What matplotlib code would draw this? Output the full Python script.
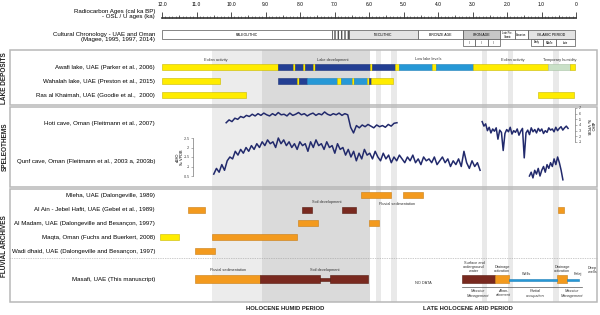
"""Holocene palaeo-records of SE Arabia compared with the Masafi sequence."""

import numpy as np
import matplotlib
matplotlib.use("Agg")
import matplotlib.pyplot as plt
from matplotlib.transforms import blended_transform_factory

plt.rcParams["font.family"] = ["Liberation Sans", "DejaVu Sans"]

# ------------------------------------------------------------------ data (ka)
age_ticks = [12, 11, 10, 9, 8, 7, 6, 5, 4, 3, 2, 1, 0]
age_tick_labels = ["12.0", "11.0", "10.0", "9.0", "8.0", "7.0", "6.0",
                   "5.0", "4.0", "3.0", "2.0", "1.0", "0"]

chron_names = ["PALEOLITHIC", "", "NEOLITHIC", "BRONZE AGE", "IRON AGE",
               "Late Pre-\nIslamic", "Sasanian", "ISLAMIC PERIOD"]
chron_start = [12.0, 7.07, 6.58, 4.58, 3.28, 2.20, 1.77, 1.39]
chron_end = [7.07, 6.58, 4.58, 3.28, 2.20, 1.77, 1.39, 0.03]
iron_sub = ["I", "II", "III"]
iron_edges = [3.28, 2.92, 2.56, 2.20]
islamic_sub = ["Early", "Middle", "Late"]
islamic_edges = [1.30, 0.96, 0.58, 0.03]

humid_early = (10.55, 9.10)
humid_main = (9.10, 5.97)
dry_events = [(5.80, 5.65), (5.36, 5.19), (2.72, 2.58), (1.97, 1.83), (0.67, 0.49)]

# lake deposits: (start, end, kind)  Y eolian, D lake, L low lake, G humid
awafi = [(12.0, 8.64, "Y"), (8.64, 8.20, "D"), (8.20, 8.14, "Y"), (8.14, 7.91, "D"),
         (7.91, 7.85, "Y"), (7.85, 7.62, "D"), (7.62, 7.57, "Y"), (7.57, 5.97, "D"),
         (5.97, 5.91, "Y"), (5.91, 5.25, "D"), (5.25, 5.13, "Y"), (5.13, 4.17, "L"),
         (4.17, 4.06, "Y"), (4.06, 2.99, "L"), (2.99, 0.81, "Y"), (0.81, 0.17, "G"),
         (0.17, 0.03, "Y")]
wahalah = [(12.0, 10.32, "Y"), (8.64, 8.09, "D"), (8.09, 8.03, "Y"), (8.03, 7.80, "D"),
           (7.80, 6.93, "L"), (6.93, 6.81, "Y"), (6.81, 6.49, "L"), (6.49, 6.43, "Y"),
           (6.43, 6.06, "L"), (6.06, 6.00, "Y"), (6.00, 5.94, "D"), (5.94, 5.30, "Y")]
ras = [(12.0, 9.57, "Y"), (1.10, 0.06, "Y")]

lake_names = ["Awafi lake, UAE (Parker et al., 2006)",
              "Wahalah lake, UAE (Preston et al., 2015)",
              "Ras al Khaimah, UAE (Goodie et al.,  2000)"]
lake_notes = ["Eolian activity", "Lake development", "Low lake levels",
              "Eolian activity", "Temporary humidity"]
lake_note_ages = [10.43, 7.04, 4.29, 1.83, 0.46]

# speleothems (d18O, per mil VPDB)
hoti_early = [-4.4, -4.9, -4.6, -5.2, -5.0, -5.5, -5.3, -5.7, -5.5, -5.9,
              -5.6, -6.0, -5.7, -6.1, -5.8, -5.6, -6.0, -5.7, -6.2, -5.8,
              -5.9, -5.6, -6.1, -5.7, -5.9, -6.2, -5.8, -6.0, -5.6, -5.9,
              -6.1, -5.7, -6.0, -5.8, -6.3, -5.9, -5.7, -6.0, -5.8, -6.1,
              -5.7, -6.0, -5.8, -3.6, -2.6, -3.9, -3.5, -4.0, -3.7, -4.1,
              -3.8, -3.5, -4.0, -3.7, -3.9, -3.6, -4.1, -3.8, -4.3, -4.4]
hoti_early_span = (10.14, 5.19)
hoti_late = [-4.6, -3.8, -4.2, -3.0, -3.6, -2.6, -3.3, -2.9, -3.5, -1.5,
             -3.1, -2.7, 0.5, -2.5, -3.2, -2.8, -3.6, -2.4, -3.0, -2.7,
             -3.3, -2.2, -2.9, -3.4, 1.8, -2.6, -3.1, -2.3, -3.5, -2.8,
             -3.2, -2.6, -3.4, -2.9, -3.3, -2.5, -3.0, -2.7, -3.5, -3.1,
             -3.3, -2.8, -3.6, -3.0, -3.4, -3.7, -3.1, -3.5, -3.8, -3.4]
hoti_late_span = (2.72, 0.23)
qunf_main = [-0.6, -0.9, -0.7, -1.1, -0.8, -1.3, -1.5, -1.4, -1.8, -1.6,
             -1.9, -1.7, -2.0, -1.8, -2.1, -1.9, -2.2, -2.0, -2.3, -2.1,
             -2.4, -2.2, -2.3, -2.0, -2.5, -2.2, -2.4, -2.1, -2.3, -2.0,
             -2.2, -1.9, -2.3, -2.1, -2.2, -1.8, -2.3, -2.0, -2.4, -2.1,
             -2.2, -1.9, -2.3, -2.0, -2.1, -1.7, -2.2, -1.9, -2.0, -1.6,
             -1.9, -1.5, -1.8, -1.3, -1.7, -1.4, -1.9, -1.6, -1.7, -1.4,
             -1.8, -1.5, -1.3, -1.7, -1.4, -1.6, -1.2, -1.5, -1.3, -1.6,
             -1.4, -1.2, -1.5, -1.3, -1.6, -1.2, -1.4, -1.1, -1.5, -1.3,
             -1.4, -1.2, -1.5, -1.1, -1.3, -1.5, -1.2, -1.4, -1.0, -1.3,
             -1.1, -1.4, -1.0, -1.8, -1.2, -0.9, -1.3, -1.0, -1.2, -0.8]
qunf_main_span = (10.50, 2.78)
qunf_late = [-0.5, -0.7, -0.4, -0.8, -0.6, -0.9, -0.5, -0.8, -1.0, -0.7,
             -1.1, -0.9, -1.2, -1.0, -1.4, -1.1, -1.5, -1.2, -0.8, -0.3]
qunf_late_span = (1.35, 0.38)
qunf_ticks = [-2.5, -2, -1.5, -1, -0.5]
qunf_tick_labels = ["-2.5", "-2", "-1.5", "-1", "-0.5"]
hoti_ticks = [-7, -6, -5, -4, -3, -2, -1]

# fluvial archives: O fluvial sedimentation, B soil development, Y eolian
mleha = [(6.23, 5.36, "O"), (5.01, 4.43, "O")]
alain = [(11.25, 10.75, "O"), (7.94, 7.65, "B"), (6.78, 6.38, "B"), (0.52, 0.35, "O")]
almadam = [(8.06, 7.48, "O"), (6.00, 5.71, "O")]
maqta = [(12.06, 11.51, "Y"), (10.55, 8.09, "O")]
wadi = [(11.04, 10.46, "O")]
masafi = [(11.04, 9.16, "O"), (9.16, 7.42, "B"), (7.13, 6.03, "B"),
          (3.30, 2.35, "B"), (2.35, 1.94, "O"), (0.55, 0.26, "O")]
masafi_neck = [(7.42, 7.13, "B")]
masafi_wells = [(1.94, 0.55, "W"), (0.26, -0.09, "W")]

fluvial_names = ["Mleha, UAE (Dalongeville, 1989)",
                 "Al Ain - Jebel Hafit, UAE (Gebel et al., 1989)",
                 "Al Madam, UAE (Dalongeville and Besançon, 1997)",
                 "Maqta, Oman (Fuchs and Buerkert, 2008)",
                 "Wadi dhaid, UAE (Dalongeville and Besançon, 1997)",
                 "Masafi, UAE (This manuscript)"]

# ------------------------------------------------------------------ layout
W, H = 600, 315
AGE0_PX, PX_PER_KA = 576, 34.5
LABEL_FS = 4.4


def age_at(px):
    return (AGE0_PX - px) / PX_PER_KA


FILL = {"Y": "#ffec00", "D": "#233f93", "L": "#2698d6", "G": "#c9e0c7",
        "O": "#f39a1e", "B": "#79291f", "W": "#2698d6"}
EDGE = {"Y": "#c9b800", "D": "#1b3278", "L": "#1f80b9", "G": "#a8c3a6",
        "O": "#c97d14", "B": "#55190f", "W": "#1f80b9"}
NAVY = "#222a6c"
FRAME = "#b8b8b8"

fig = plt.figure(figsize=(6, 3.15), dpi=100)
ax = fig.add_axes([0, 0, 1, 1])
ax.set_xlim(age_at(0), age_at(W))
ax.set_ylim(H, 0)
ax.axis("off")
lab = blended_transform_factory(fig.transFigure, ax.transData)

# shaded periods
ax.fill_betweenx([50, 302], *humid_early, color="#ececec", lw=0, zorder=0)
ax.fill_betweenx([50, 302], *humid_main, color="#dadada", lw=0, zorder=0)
for a, b in dry_events:
    ax.fill_betweenx([50, 302], a, b, color="#e9e9e9", lw=0, zorder=0)

# panel frames
for top, bot in [(50, 105), (107, 187), (189, 302)]:
    ax.add_patch(plt.Rectangle((10 / W, top), 587 / W, bot - top, transform=lab,
                               fill=False, ec=FRAME, lw=1.1, zorder=1))
ax.plot([10 / W, 597 / W], [258, 258], transform=lab, color="#999999",
        lw=0.5, ls=(0, (1, 1.5)), zorder=1)

for txt, yc in [("LAKE DEPOSITS", 78), ("SPELEOTHEMS", 147), ("FLUVIAL ARCHIVES", 246)]:
    ax.text(5 / W, yc, txt, transform=lab, rotation=90, ha="center", va="center",
            fontsize=4.7, fontweight="bold", color="#222222")

# top age scale
tax = fig.add_axes([162 / W, 1 - 18 / H, 414 / W, 10 / H])
tax.set_xlim(12, 0)
tax.patch.set_alpha(0)
for s in ["left", "right", "top"]:
    tax.spines[s].set_visible(False)
tax.spines["bottom"].set_linewidth(1.2)
tax.spines["bottom"].set_color("#333333")
tax.set_yticks([])
tax.set_xticks(age_ticks)
tax.set_xticklabels(age_tick_labels)
tax.set_xticks(np.arange(0, 12, 0.1), minor=True)
tax.tick_params(axis="x", which="major", direction="in", length=4.5, width=0.6,
                color="#333333", bottom=True, top=False, labelbottom=False,
                labeltop=True, labelsize=3.5, pad=1)
tax.tick_params(axis="x", which="minor", direction="in", length=1.5, width=0.4,
                color="#333333", top=False)
tax.vlines(np.arange(0.5, 12, 1), 0, 0.3, transform=tax.get_xaxis_transform(),
           color="#333333", lw=0.5)

ax.text(155 / W, 14, "Radiocarbon Ages (cal ka BP)\n- OSL / U ages (ka)", transform=lab,
        ha="right", va="center", fontsize=LABEL_FS, linespacing=1.15)
ax.text(155 / W, 37, "Cultural Chronology - UAE and Oman\n(Magee, 1995, 1997, 2014)",
        transform=lab, ha="right", va="center", fontsize=LABEL_FS, linespacing=1.15)

# cultural chronology
chron_fill = ["white", "white", "#e3e3e3", "white", "#c6c6c6", "white", "white", "#e3e3e3"]
for name, s, e, fc in zip(chron_names, chron_start, chron_end, chron_fill):
    ax.barh(34.5, e - s, left=s, height=9, color=fc, edgecolor="#555555", lw=0.5,
            hatch="|||||" if name == "" else None, zorder=2)
    small = "\n" in name or name == "Sasanian"
    ax.text((s + e) / 2, 34.5, name, ha="center", va="center",
            fontsize=1.8 if small else 2.5, linespacing=1.0, zorder=3)
for edges, names in [(iron_edges, iron_sub), (islamic_edges, islamic_sub)]:
    for s, e, n in zip(edges[:-1], edges[1:], names):
        ax.barh(42.5, e - s, left=s, height=7, color="white", edgecolor="#555555",
                lw=0.5, zorder=2)
        ax.text((s + e) / 2, 42.5, n, ha="center", va="center", fontsize=1.9, zorder=3)


def draw_row(segs, y, h=6):
    for s, e, k in segs:
        ax.barh(y, e - s, left=s, height=h, color=FILL[k], edgecolor=EDGE[k],
                lw=0.4, zorder=3)


# lake deposits
for segs, name, y in zip([awafi, wahalah, ras], lake_names, [67, 81, 95]):
    draw_row(segs, y)
    ax.text(155 / W, y, name, transform=lab, ha="right", va="center", fontsize=LABEL_FS)
for note, a in zip(lake_notes, lake_note_ages):
    ax.text(a, 59.5, note, ha="center", va="center", fontsize=2.8, color="#333333")

# speleothems
ax.text(155 / W, 124, "Hoti cave, Oman (Fleitmann et al., 2007)", transform=lab,
        ha="right", va="center", fontsize=LABEL_FS)
ax.text(155 / W, 161, "Qunf cave, Oman (Fleitmann et al., 2003 a, 2003b)", transform=lab,
        ha="right", va="center", fontsize=LABEL_FS)

hax = fig.add_axes([0, 1 - 142 / H, 575 / W, 34 / H])
hax.set_xlim(age_at(0), age_at(575))
hax.set_ylim(-1, -7)
hax.patch.set_alpha(0)
for s in ["left", "top", "bottom"]:
    hax.spines[s].set_visible(False)
hax.spines["right"].set_color("#777777")
hax.spines["right"].set_linewidth(0.5)
hax.set_xticks([])
hax.yaxis.tick_right()
hax.set_yticks(hoti_ticks)
hax.set_yticklabels([str(t) for t in hoti_ticks])
hax.tick_params(axis="y", length=1.5, width=0.4, color="#777777", labelsize=2.5,
                pad=1, labelcolor="#333333")
for vals, span in [(hoti_early, hoti_early_span), (hoti_late, hoti_late_span)]:
    hax.plot(np.linspace(span[0], span[1], len(vals)), vals, color=NAVY, lw=1.1,
             clip_on=False)
ax.text(590 / W, 127, "d18O\n‰ VPDB", transform=lab, rotation=270, ha="center",
        va="center", fontsize=2.8, linespacing=1.0)

qax = fig.add_axes([193 / W, 1 - 176 / H, (W - 193) / W, 38 / H])
qax.set_xlim(age_at(193), age_at(W))
qax.set_ylim(-0.5, -2.5)
qax.patch.set_alpha(0)
for s in ["right", "top", "bottom"]:
    qax.spines[s].set_visible(False)
qax.spines["left"].set_color("#777777")
qax.spines["left"].set_linewidth(0.5)
qax.set_xticks([])
qax.set_yticks(qunf_ticks)
qax.set_yticklabels(qunf_tick_labels)
qax.tick_params(axis="y", length=1.5, width=0.4, color="#777777", labelsize=2.5,
                pad=1, labelcolor="#333333")
for vals, span in [(qunf_main, qunf_main_span), (qunf_late, qunf_late_span)]:
    qax.plot(np.linspace(span[0], span[1], len(vals)), vals, color=NAVY, lw=1.1,
             clip_on=False)
ax.text(180 / W, 157, "d18O\n‰ VPDB", transform=lab, rotation=90, ha="center",
        va="center", fontsize=2.8, linespacing=1.0)

# fluvial archives
fluv_rows = [mleha, alain, almadam, maqta, wadi, masafi]
fluv_y = [195, 210, 223, 237, 251, 279]
for segs, name, y in zip(fluv_rows, fluvial_names, fluv_y):
    draw_row(segs, y, h=8 if segs is masafi else 6)
    ax.text(155 / W, y, name, transform=lab, ha="right", va="center", fontsize=LABEL_FS)
draw_row(masafi_neck, 279, h=3)
draw_row(masafi_wells, 280, h=2.5)

small = dict(ha="center", va="center", fontsize=2.8, color="#333333", linespacing=1.0)
ax.text(age_at(327), 202, "Soil development", **small)
ax.text(age_at(397), 204, "Fluvial sedimentation", **small)
ax.text(age_at(228), 270, "Fluvial sedimentation", **small)
ax.text(age_at(325), 270, "Soil development", **small)
ax.text(age_at(423), 283, "NO DATA", **small)
ax.text(age_at(474), 267, "Surface and\nunderground\nwater", **small)
ax.text(age_at(502), 269, "Drainage\nactivation", **small)
ax.text(age_at(527), 274, "Wells", **small)
ax.text(age_at(562), 269, "Drainage\nactivation", **small)
ax.text(age_at(578), 274, "Falaj", **small)
ax.text(age_at(592), 270, "Deep\nwells", **small)
ax.plot([age_at(462), age_at(582)], [287, 287], color="#555555", lw=0.5)
for px, t in [(478, "Massive\nManagement"), (503, "Aban-\ndonment"),
              (535, "Partial\noccupation"), (572, "Massive\nManagement")]:
    ax.text(age_at(px), 293.5, t, style="italic", **small)

ax.text(285 / W, 309, "HOLOCENE HUMID PERIOD", transform=lab, ha="center", va="center",
        fontsize=4.2, fontweight="bold", color="#222222")
ax.text(468 / W, 309, "LATE HOLOCENE ARID PERIOD", transform=lab, ha="center",
        va="center", fontsize=4.2, fontweight="bold", color="#222222")

fig.savefig("out.png", dpi=100)
